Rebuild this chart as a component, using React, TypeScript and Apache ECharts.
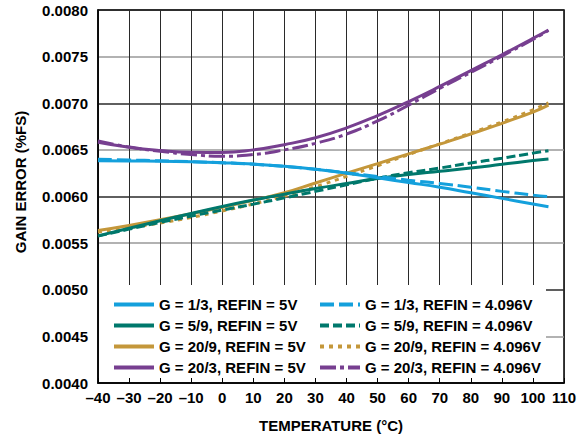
import React, { useEffect, useRef } from 'react';
import * as echarts from 'echarts';

const temps = [-40, -30, -20, -10, 0, 10, 20, 30, 40, 50, 60, 70, 80, 90, 100, 105];

const g13_5V = [0.006384, 0.006382, 0.006378, 0.006372, 0.006362, 0.006348, 0.006325, 0.006292, 0.00625, 0.0062, 0.00615, 0.0061, 0.00604, 0.00598, 0.00592, 0.00589];
const g13_4V = [0.0064, 0.006392, 0.006383, 0.006373, 0.006362, 0.006345, 0.006322, 0.006292, 0.006255, 0.006215, 0.006175, 0.00614, 0.0061, 0.006055, 0.006015, 0.005998];
const g59_5V = [0.005578, 0.00566, 0.00574, 0.005818, 0.005893, 0.005962, 0.006025, 0.006085, 0.00614, 0.006192, 0.006235, 0.00627, 0.006305, 0.006345, 0.006385, 0.006402];
const g59_4V = [0.005575, 0.00565, 0.005722, 0.00579, 0.005855, 0.005918, 0.005985, 0.006055, 0.006125, 0.006195, 0.006255, 0.006305, 0.00636, 0.00641, 0.006465, 0.006491];
const g209_5V = [0.005635, 0.00569, 0.00575, 0.005815, 0.005885, 0.00596, 0.00604, 0.006145, 0.00625, 0.006352, 0.006457, 0.006562, 0.00667, 0.006785, 0.006905, 0.00698];
const g209_4V = [0.00562, 0.005665, 0.005715, 0.005775, 0.005845, 0.00592, 0.006005, 0.006105, 0.006215, 0.00633, 0.00645, 0.006565, 0.00668, 0.0068, 0.00693, 0.007005];
const g203_5V = [0.006582, 0.006528, 0.006493, 0.006474, 0.006472, 0.0065, 0.006556, 0.00663, 0.006736, 0.006868, 0.007018, 0.00718, 0.00735, 0.00752, 0.007695, 0.007786];
const g203_4V = [0.006595, 0.00653, 0.006485, 0.00645, 0.006432, 0.00645, 0.0065, 0.00657, 0.00667, 0.00681, 0.00698, 0.00716, 0.00733, 0.007505, 0.007685, 0.00778];

const names5V = ['G = 1/3, REFIN = 5V', 'G = 5/9, REFIN = 5V', 'G = 20/9, REFIN = 5V', 'G = 20/3, REFIN = 5V'];
const names4V = ['G = 1/3, REFIN = 4.096V', 'G = 5/9, REFIN = 4.096V', 'G = 20/9, REFIN = 4.096V', 'G = 20/3, REFIN = 4.096V'];

const xTitle = 'TEMPERATURE (°C)';
const yTitle = 'GAIN ERROR (%FS)';

const BLUE = '#14a0dc';
const TEAL = '#00786c';
const GOLD = '#c4973a';
const PURPLE = '#773f90';
const FONT = '"Liberation Sans", Arial, sans-serif';

const pair = (vals: number[]) => temps.map((t, i) => [t, vals[i]]);

const mk = (name: string, vals: number[], color: string, type: any, z: number) => ({
  name,
  type: 'line',
  data: pair(vals),
  smooth: true,
  symbol: 'none',
  z,
  lineStyle: { color, width: 3, type },
  itemStyle: { color },
});

export default function App() {
  const ref = useRef<HTMLDivElement>(null);
  useEffect(() => {
    if (!ref.current) return;
    const chart = echarts.init(ref.current, null, { renderer: 'svg' });
    const legendCommon = {
      orient: 'vertical',
      top: 292,
      itemWidth: 40,
      itemHeight: 14,
      itemGap: 6,
      itemStyle: { opacity: 0 },
      lineStyle: { width: 4 },
      textStyle: { color: '#000', fontWeight: 'bold', fontSize: 15, fontFamily: FONT },
      z: 20,
    };
    chart.setOption({
      animation: false,
      backgroundColor: '#fff',
      grid: { left: 98, right: 19, top: 10, bottom: 55, show: true, borderColor: '#000', borderWidth: 1.5, backgroundColor: 'transparent' },
      xAxis: [
        {
          type: 'value', min: -40, max: 110, interval: 10,
          name: xTitle, nameLocation: 'middle', nameGap: 35,
          nameTextStyle: { color: '#000', fontWeight: 'bold', fontSize: 15, fontFamily: FONT },
          axisLine: { show: true, onZero: false, lineStyle: { color: '#000', width: 1.5 } },
          axisTick: { show: false },
          axisLabel: {
            color: '#000', fontWeight: 'bold', fontSize: 15, fontFamily: FONT, margin: 7,
            formatter: (v: number) => (v < 0 ? '\u2013' + Math.abs(v) : String(v)),
          },
          splitLine: { show: true, lineStyle: { color: '#2a2a2a', width: 1 } },
        },
        {
          type: 'value', min: -40, max: 110, interval: 10, position: 'bottom',
          axisLine: { show: false, onZero: false },
          axisTick: { show: true, inside: true, length: 5, lineStyle: { color: '#000', width: 1 } },
          axisLabel: { show: false },
          splitLine: { show: false },
          z: 30,
        },
      ],
      yAxis: {
        type: 'value', min: 0.004, max: 0.008, interval: 0.0005,
        axisLine: { show: true, onZero: false, lineStyle: { color: '#000', width: 1.5 } },
        axisTick: { show: false },
        axisLabel: {
          color: '#000', fontWeight: 'bold', fontSize: 15, fontFamily: FONT, margin: 10,
          formatter: (v: number) => v.toFixed(4),
        },
        splitLine: { show: true, lineStyle: { color: ['#2a2a2a', '#999999'], width: 1.5 } },
      },
      legend: [
        { ...legendCommon, left: 107, data: names5V },
        { ...legendCommon, left: 313, data: names4V },
      ],
      graphic: [
        {
          type: 'rect', z: 5, zlevel: 0,
          shape: { x: 99, y: 285, width: 447, height: 97 },
          style: { fill: '#fff' },
        },
        {
          type: 'text', x: 20, y: 182, rotation: Math.PI / 2, z: 20,
          style: {
            text: yTitle, fill: '#000', font: `bold 15px ${FONT}`,
            textAlign: 'center', textVerticalAlign: 'middle',
          },
        },
      ],
      series: [
        mk(names4V[2], g209_4V, GOLD, [4, 5], 3),
        mk(names5V[2], g209_5V, GOLD, 'solid', 3),
        mk(names4V[1], g59_4V, TEAL, [9, 4], 4),
        mk(names5V[1], g59_5V, TEAL, 'solid', 4),
        mk(names4V[0], g13_4V, BLUE, [14, 5], 5),
        mk(names5V[0], g13_5V, BLUE, 'solid', 5),
        mk(names4V[3], g203_4V, PURPLE, [16, 4, 4, 4], 6),
        mk(names5V[3], g203_5V, PURPLE, 'solid', 6),
      ],
    });
    return () => chart.dispose();
  }, []);
  return <div ref={ref} style={{ width: 583, height: 438, position: 'absolute', left: 0, top: 0 }} />;
}
